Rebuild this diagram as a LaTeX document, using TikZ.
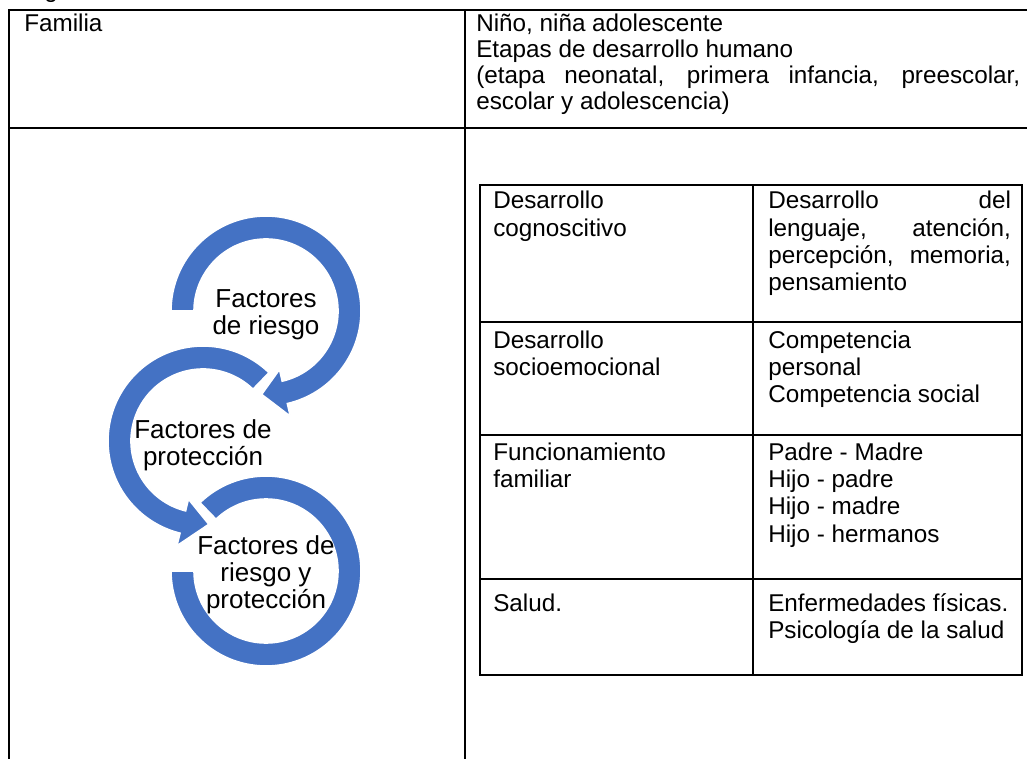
\documentclass[tikz,border=0pt]{standalone}
\usepackage{fontspec}
\setmainfont{Liberation Sans}
\usetikzlibrary{calc}
\definecolor{ringblue}{HTML}{4472C4}
\tikzset{
  tabtxt/.style={inner sep=0pt, anchor=base west, font=\fontsize{18.2}{20.5}\selectfont},
  toptxt/.style={inner sep=0pt, anchor=base west, font=\fontsize{18.2}{19.5}\selectfont},
  ringtxt/.style={inner sep=0pt, align=center, font=\fontsize{19.5}{20.3}\selectfont},
  ring/.style={fill=ringblue, draw=white, line width=1.2pt, line join=miter},
  rule/.style={line width=1.4pt, draw=black},
}
\begin{document}
\begin{tikzpicture}[x=0.75pt,y=0.75pt]
\useasboundingbox (0,0) rectangle (1027,-759);

% caption fragment (cut by the page edge, as in the reference)
\node[toptxt] (fig) at (24,2) {Figura};

% outer table
\draw[rule] (1032,-10) -- (9,-10) -- (9,-765);
\draw[rule] (465,-10) -- (465,-765);
\draw[rule] (9,-128) -- (1032,-128);

\node[toptxt] (fam) at (24,-32) {Familia};
\node[toptxt] (nino) at (476,-32) {\parbox[t]{408pt}{Niño, niña adolescente\\
Etapas de desarrollo humano\\
\makebox[\linewidth][s]{(etapa neonatal, primera infancia, preescolar,}\\
escolar y adolescencia)}};

% inner table
\draw[rule] (480,-185) rectangle (1022,-675);
\draw[rule] (753,-185) -- (753,-675);
\draw[rule] (480,-322) -- (1022,-322);
\draw[rule] (480,-435) -- (1022,-435);
\draw[rule] (480,-579) -- (1022,-579);

\node[tabtxt] (r1a) at (493,-209) {\parbox[t]{190pt}{Desarrollo\\cognoscitivo}};
\node[tabtxt] (r1b) at (768,-209) {\parbox[t]{182pt}{Desarrollo\hfill del\\lenguaje,\hfill atención,\\percepción,\hfill memoria,\\pensamiento}};
\node[tabtxt] (r2a) at (493,-348) {\parbox[t]{190pt}{Desarrollo\\socioemocional}};
\node[tabtxt] (r2b) at (768,-348) {\parbox[t]{182pt}{Competencia\\personal\\Competencia social}};
\node[tabtxt] (r3a) at (493,-460) {\parbox[t]{190pt}{Funcionamiento\\familiar}};
\node[tabtxt] (r3b) at (768,-460) {\parbox[t]{182pt}{Padre - Madre\\Hijo - padre\\Hijo - madre\\Hijo - hermanos}};
\node[tabtxt] (r4a) at (493,-611) {\parbox[t]{190pt}{Salud.}};
\node[tabtxt] (r4b) at (768,-611) {\parbox[t]{182pt}{Enfermedades físicas.\\Psicología de la salud}};

% circular arrows
\coordinate (c1) at (266,-311);
\coordinate (c2) at (203,-441);
\coordinate (c3) at (266,-571);

\path[ring] ($(c3)+(134:95)$) arc[start angle=134, end angle=-180, radius=95]
  -- ($(c3)+(180:72)$) arc[start angle=-180, end angle=134, radius=72] -- cycle;

\path[ring] ($(c2)+(46:95)$) arc[start angle=46, end angle=256, radius=95]
  -- ($(c2)+(256:108)$) -- ($(c2)+(274:83.5)$) -- ($(c2)+(256:60)$)
  -- ($(c2)+(256:72)$) arc[start angle=256, end angle=46, radius=72] -- cycle;

\path[ring] ($(c1)+(180:95)$) arc[start angle=180, end angle=-77, radius=95]
  -- ($(c1)+(-77:108)$) -- ($(c1)+(-93:83.5)$) -- ($(c1)+(-77:60)$)
  -- ($(c1)+(-77:72)$) arc[start angle=-77, end angle=180, radius=72] -- cycle;

\node[ringtxt] (t1) at ($(c1)+(0,-4)$) {Factores\\de riesgo};
\node[ringtxt] (t2) at ($(c2)+(0,-4)$) {Factores de\\protección};
\node[ringtxt] (t3) at ($(c3)+(0,-4)$) {Factores de\\riesgo y\\protección};
\end{tikzpicture}
\end{document}
